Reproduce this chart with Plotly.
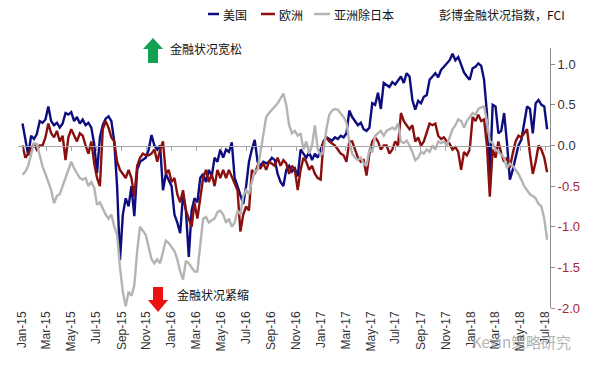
import pandas as pd
import plotly.graph_objects as go

# ---------------- data (weekly) ----------------
start_date = "2015-01-02"
n_weeks = 184
dates = pd.date_range(start_date, periods=n_weeks, freq="7D")

us = [0.27, 0.05, -0.12, 0.12, 0.08, 0.14, 0.30, 0.28, 0.32, 0.48,
      0.30, 0.25, 0.28, 0.22, 0.27, 0.40, 0.38, 0.41, 0.30, 0.35,
      0.27, 0.32, 0.25, 0.28, 0.22, 0.02, -0.34, 0.10, 0.25, 0.33,
      0.36, 0.30, 0.05, -0.50, -1.41, -0.85, -0.65, -0.75, -0.50, -0.87,
      -0.30, -0.20, -0.18, -0.15, -0.05, 0.13, 0.00, -0.05, 0.00, -0.55,
      -0.35, -0.42, -0.50, -0.85, -0.95, -1.08, -0.60, -0.80, -1.37, -0.80,
      -0.65, -0.70, -0.40, -0.35, -0.45, -0.30, -0.38, -0.15, -0.20, -0.05,
      -0.15, -0.05, -0.08, 0.04, -0.40, -0.50, -0.60, -0.72, -0.50, -0.20,
      -0.05, 0.07, -0.20, -0.25, -0.20, -0.22, -0.20, -0.15, -0.18, -0.35,
      -0.45, -0.50, -0.30, -0.25, -0.32, -0.28, -0.38, -0.05, -0.10, -0.15,
      -0.08, -0.18, -0.10, -0.15, -0.05, 0.05, 0.10, 0.08, 0.06, 0.10,
      0.08, 0.12, 0.10, 0.15, 0.43, 0.35, 0.30, 0.25, 0.28, 0.20,
      0.18, 0.22, 0.52, 0.50, 0.65, 0.45, 0.77, 0.75, 0.72, 0.78,
      0.75, 0.80, 0.85, 0.77, 0.89, 0.85, 0.56, 0.44, 0.55, 0.52,
      0.60, 0.62, 0.81, 0.85, 0.89, 0.84, 0.93, 0.97, 1.01, 1.05,
      1.13, 1.05, 1.09, 1.00, 0.90, 0.85, 0.81, 0.95, 0.97, 1.01,
      0.98, 0.81, 0.40, -0.38, 0.50, 0.48, 0.15, 0.18, 0.40, 0.03,
      -0.42, -0.30, -0.13, 0.00, 0.07, 0.30, 0.48, 0.45, 0.15, 0.52,
      0.56, 0.50, 0.48, 0.20]

europe = [0.00, -0.15, -0.10, -0.03, 0.02, -0.05, 0.00, 0.00, 0.10, 0.27,
          0.15, 0.10, 0.18, 0.05, 0.12, -0.18, 0.10, 0.20, 0.12, 0.05,
          0.15, 0.12, 0.00, -0.10, 0.05, -0.22, -0.40, -0.50, 0.20, 0.30,
          0.22, 0.10, 0.05, -0.20, -0.30, -0.35, -0.40, -0.30, -0.40, -0.63,
          -0.25, -0.15, -0.10, -0.12, -0.12, -0.10, -0.05, -0.20, -0.05, 0.05,
          -0.35, -0.30, -0.45, -0.40, -0.60, -0.70, -0.55, -0.80, -0.90, -1.00,
          -0.70, -0.90, -0.65, -0.40, -0.30, -0.45, -0.35, -0.50, -0.30, -0.40,
          -0.30, -0.40, -0.30, -0.38, -0.45, -0.55, -1.06, -0.85, -0.75, -0.80,
          -0.30, -0.35, -0.25, -0.28, -0.22, -0.30, -0.20, -0.22, -0.25, -0.15,
          -0.25, -0.18, -0.22, -0.35, -0.25, -0.30, -0.55, -0.30, -0.15, -0.20,
          -0.30, -0.25, -0.35, -0.40, -0.42, 0.05, 0.10, 0.05, 0.02, 0.00,
          -0.05, -0.10, -0.12, -0.20, 0.05, 0.05, -0.05, -0.15, -0.20, -0.18,
          -0.37, -0.10, 0.05, 0.10, 0.05, -0.05, 0.00, 0.00, -0.10, -0.05,
          0.05, 0.00, 0.40, 0.30, 0.25, 0.20, 0.25, 0.05, 0.10, 0.00,
          0.05, 0.15, 0.27, 0.25, 0.27, 0.12, 0.08, 0.10, 0.05, 0.02,
          -0.05, -0.02, -0.08, -0.30, -0.08, -0.12, -0.05, 0.35, 0.30, 0.38,
          0.30, 0.32, 0.00, -0.63, -0.05, -0.15, 0.05, -0.10, -0.20, -0.15,
          -0.27, -0.10, 0.05, 0.12, 0.10, 0.15, 0.20, -0.10, -0.35, -0.20,
          0.00, -0.05, -0.15, -0.33]

asia_ex_japan = [-0.36, -0.32, -0.25, -0.10, 0.03, 0.02, -0.12, -0.26, -0.35, -0.45,
                 -0.55, -0.71, -0.62, -0.60, -0.50, -0.38, -0.30, -0.20, -0.28, -0.35,
                 -0.40, -0.42, -0.40, -0.50, -0.45, -0.52, -0.73, -0.70, -0.78, -0.85,
                 -0.90, -0.85, -1.00, -1.10, -1.50, -1.80, -1.98, -1.80, -1.85, -1.72,
                 -1.30, -1.00, -1.05, -1.10, -1.25, -1.40, -1.45, -1.40, -1.45, -1.30,
                 -1.17, -1.20, -1.25, -1.30, -1.40, -1.55, -1.65, -1.42, -1.45, -1.50,
                 -1.55, -1.55, -1.25, -0.90, -0.88, -0.95, -0.92, -0.90, -0.82, -0.80,
                 -0.85, -0.95, -0.90, -1.00, -0.95, -0.80, -0.85, -0.62, -0.55, -0.60,
                 -0.45, -0.32, -0.30, -0.10, 0.10, 0.35, 0.40, 0.44, 0.47, 0.52,
                 0.58, 0.64, 0.50, 0.25, 0.15, 0.18, 0.12, 0.15, -0.05, 0.05,
                 -0.10, 0.00, 0.25, -0.05, -0.12, -0.08, 0.20, 0.38, 0.43, 0.45,
                 0.44, 0.40, 0.35, 0.28, 0.05, -0.10, -0.15, -0.18, -0.15, -0.22,
                 -0.25, -0.05, -0.08, 0.12, 0.15, 0.18, 0.12, 0.18, 0.20, 0.22,
                 0.20, 0.27, 0.05, 0.03, 0.06, 0.00, -0.08, -0.18, -0.15, -0.08,
                 -0.10, -0.05, -0.08, 0.00, -0.05, 0.05, 0.03, 0.05, 0.00, 0.10,
                 0.20, 0.25, 0.32, 0.30, 0.22, 0.30, 0.35, 0.40, 0.38, 0.45,
                 0.47, 0.48, 0.30, 0.05, 0.03, -0.05, -0.08, -0.12, -0.15, -0.28,
                 -0.22, -0.25, -0.30, -0.35, -0.42, -0.50, -0.55, -0.60, -0.62, -0.65,
                 -0.72, -0.75, -0.90, -1.16]

series_names = ["美国", "欧洲", "亚洲除日本"]
series_colors = ["#0d0d80", "#8a1010", "#b4b4b4"]

y_tick_vals = [1.0, 0.5, 0.0, -0.5, -1.0, -1.5, -2.0]
y_tick_text = ["1.0", "0.5", "0.0", "-0.5", "-1.0", "-1.5", "-2.0"]

chart_title = "彭博金融状况指数，FCI"
loose_label = "金融状况宽松"
tight_label = "金融状况紧缩"
watermark = "Kevin策略研究"

# ---------------- figure ----------------
W, H = 612, 384
L, R, T, B = 18, 62, 48, 76
pw, ph = W - L - R, H - T - B


def px(x):
    return (x - L) / pw


def py(y):
    return (H - B - y) / ph


fig = go.Figure()
for name, vals, col in zip(series_names, [us, europe, asia_ex_japan], series_colors):
    fig.add_trace(go.Scatter(x=dates, y=vals, mode="lines", name=name,
                             line=dict(color=col, width=2.4), showlegend=False))

# invisible trace to carry the zero-line axis
fig.add_trace(go.Scatter(x=[dates[0], dates[-1]], y=[0, 0], mode="lines",
                         line=dict(width=0), xaxis="x2", yaxis="y",
                         showlegend=False, hoverinfo="skip"))

xr = ["2014-12-22", "2018-07-13"]
neg_col = "#a8283c"
pos_col = "#333333"
ticktext = [f"<span style='color:{neg_col}'>{t}</span>" if v < 0 else t
            for v, t in zip(y_tick_vals, y_tick_text)]

font_family = "Liberation Sans, Arial, Noto Sans CJK SC, sans-serif"
cjk_family = "Noto Sans CJK SC, sans-serif"

fig.update_layout(
    width=W, height=H,
    margin=dict(l=L, r=R, t=T, b=B),
    paper_bgcolor="white", plot_bgcolor="white",
    font=dict(family=font_family, size=12, color=pos_col),
    xaxis=dict(type="date", range=xr, showgrid=False, zeroline=False,
               showline=False, ticks="", tickformat="%b-%y",
               dtick="M2", tick0="2015-01-01", tickangle=-90,
               tickfont=dict(size=12, color="#333333")),
    xaxis2=dict(type="date", range=xr, overlaying="x", matches="x",
                anchor="free", position=0.625, showgrid=False,
                zeroline=False, showline=True, linecolor="#a6a6a6",
                linewidth=1, ticks="outside", ticklen=4, tickcolor="#a6a6a6",
                dtick="M2", tick0="2015-01-01", showticklabels=False),
    yaxis=dict(side="right", range=[-2.0, 1.2], showgrid=False,
               zeroline=False, showline=True, linecolor="#8c8c8c",
               linewidth=1, ticks="outside", ticklen=4, tickcolor="#8c8c8c",
               tickvals=y_tick_vals, ticktext=ticktext,
               tickfont=dict(size=13, color=pos_col)),
)

# manual legend
legend_items = [(208, 219, 221), (261, 275, 277), (314, 330, 332)]
leg_y = 14
for (x0, x1, xt), name, col in zip(legend_items, series_names, series_colors):
    fig.add_shape(type="line", xref="paper", yref="paper",
                  x0=px(x0), x1=px(x1), y0=py(leg_y), y1=py(leg_y),
                  line=dict(color=col, width=2.5))
    fig.add_annotation(xref="paper", yref="paper", x=px(xt), y=py(leg_y),
                       text=name, showarrow=False, xanchor="left",
                       yanchor="middle",
                       font=dict(family=cjk_family, size=12, color="#111111"))

fig.add_annotation(xref="paper", yref="paper", x=px(437), y=py(leg_y),
                   text=chart_title, showarrow=False, xanchor="left",
                   yanchor="middle",
                   font=dict(family=cjk_family, size=12, color="#111111"))

# green up arrow
up = [(153, 38), (143, 49), (148, 49), (148, 63), (158, 63), (158, 49), (163, 49)]
fig.add_shape(type="path", xref="paper", yref="paper",
              path="M " + " L ".join(f"{px(a):.4f},{py(b):.4f}" for a, b in up) + " Z",
              fillcolor="#12a150", line=dict(width=0))
fig.add_annotation(xref="paper", yref="paper", x=px(168), y=py(48),
                   text=loose_label, showarrow=False, xanchor="left",
                   yanchor="middle",
                   font=dict(family=cjk_family, size=12, color="#111111"))

# red down arrow
down = [(153, 287), (163, 287), (163, 300), (168, 300), (158, 312),
        (148, 300), (153, 300)]
fig.add_shape(type="path", xref="paper", yref="paper",
              path="M " + " L ".join(f"{px(a):.4f},{py(b):.4f}" for a, b in down) + " Z",
              fillcolor="#ee1111", line=dict(width=0))
fig.add_annotation(xref="paper", yref="paper", x=px(175), y=py(294),
                   text=tight_label, showarrow=False, xanchor="left",
                   yanchor="middle",
                   font=dict(family=cjk_family, size=12, color="#111111"))

# watermark
fig.add_annotation(xref="paper", yref="paper", x=px(470), y=py(341),
                   text=watermark, showarrow=False, xanchor="left",
                   yanchor="middle", opacity=0.75,
                   font=dict(family=cjk_family, size=15, color="#9a9a9a"))

fig.write_html("out.html",
               config={"displayModeBar": False},
               post_script="document.body.style.margin='0';"
                           "document.body.style.overflow='hidden';")
